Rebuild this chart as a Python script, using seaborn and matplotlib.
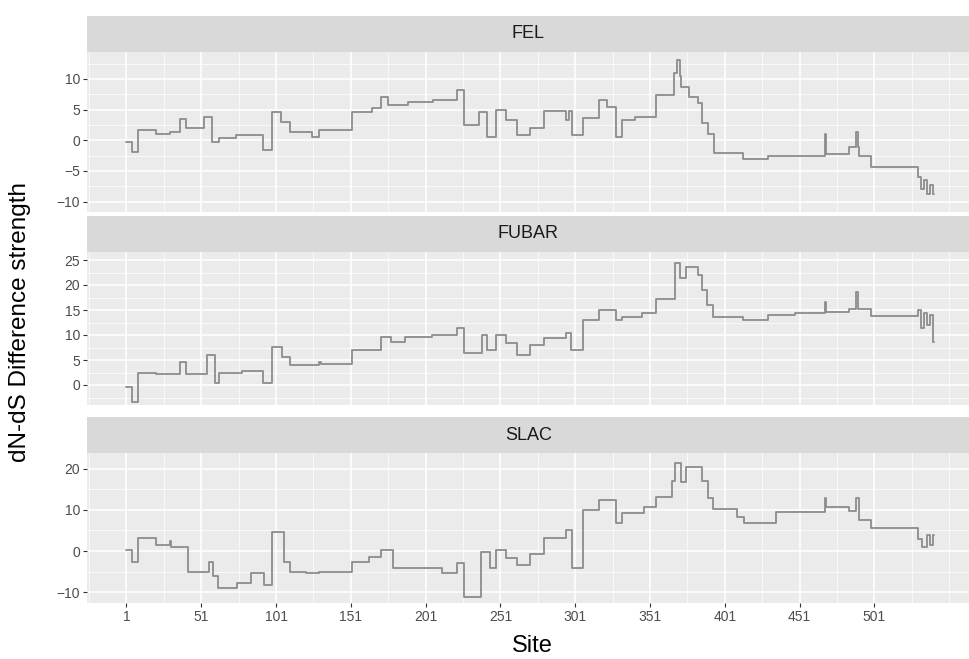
import matplotlib
matplotlib.use("Agg")
import matplotlib.pyplot as plt
from matplotlib.ticker import FixedLocator
import pandas as pd
import seaborn as sns

# ggplot-like grey theme
sns.set_theme(style="darkgrid")
plt.rcParams["font.family"] = ["Liberation Sans", "DejaVu Sans"]
plt.rcParams["axes.unicode_minus"] = True

METHODS = ["FEL", "FUBAR", "SLAC"]

FEL_SITES = [1, 5, 9, 21, 30, 37, 41, 53, 58, 63, 74, 92, 98, 104, 110, 125, 130,
             152, 165, 171, 176, 189, 206, 222, 227, 237, 242, 248, 255, 262, 271,
             280, 295, 297, 299, 306, 317, 322, 328, 332, 341, 355, 367, 369, 371,
             372, 377, 383, 386, 390, 394, 413, 430, 468, 469, 484, 489, 490, 491,
             499, 530, 532, 534, 536, 538, 540, 541]
FEL_VALUES = [-0.3, -1.9, 1.6, 1.0, 1.3, 3.4, 2.0, 3.8, -0.3, 0.3, 0.8, -1.6, 4.6,
              3.0, 1.3, 0.5, 1.6, 4.6, 5.2, 7.0, 5.7, 6.2, 6.6, 8.2, 2.5, 4.6, 0.5,
              4.9, 3.3, 0.8, 2.0, 4.7, 3.3, 4.7, 0.8, 3.6, 6.6, 5.4, 0.5, 3.3, 3.8,
              7.4, 11.0, 13.1, 10.5, 8.7, 7.0, 6.0, 2.8, 1.1, -2.1, -3.0, -2.5, 1.1,
              -2.2, -1.1, 1.3, -1.1, -2.5, -4.3, -6.0, -8.0, -6.5, -8.7, -7.3, -8.7,
              -8.7]

FUBAR_SITES = [1, 5, 9, 21, 37, 41, 55, 60, 63, 78, 92, 98, 105, 110, 130, 131,
               152, 171, 178, 187, 205, 222, 227, 239, 242, 248, 255, 262, 271, 280,
               295, 298, 306, 317, 328, 332, 346, 355, 368, 371, 375, 383, 386, 389,
               393, 413, 430, 448, 468, 469, 484, 489, 490, 499, 530, 532, 534, 536,
               538, 540, 541]
FUBAR_VALUES = [-0.3, -3.3, 2.4, 2.2, 4.6, 2.3, 6.0, 0.5, 2.4, 2.8, 0.5, 7.6, 5.6,
                4.0, 4.6, 4.2, 7.0, 9.6, 8.6, 9.6, 10.0, 11.4, 6.4, 10.0, 7.0, 10.0,
                8.4, 6.0, 8.0, 9.4, 10.4, 7.0, 13.0, 15.0, 13.0, 13.6, 14.4, 17.2,
                24.4, 21.4, 23.6, 22.0, 19.0, 16.0, 13.6, 13.0, 14.0, 14.4, 16.6,
                14.6, 15.2, 18.6, 15.2, 13.8, 15.0, 11.5, 14.5, 12.0, 14.0, 8.6, 8.6]

SLAC_SITES = [1, 5, 9, 21, 30, 31, 42, 56, 59, 62, 75, 84, 93, 98, 106, 110, 121,
              130, 152, 163, 171, 179, 203, 212, 222, 227, 238, 244, 248, 255, 262,
              271, 280, 295, 299, 306, 317, 328, 332, 347, 355, 366, 368, 372, 375,
              386, 390, 393, 409, 414, 435, 468, 469, 484, 489, 491, 499, 530, 533,
              536, 538, 540, 541]
SLAC_VALUES = [0.2, -2.6, 3.2, 1.5, 2.5, 1.0, -5.1, -2.6, -6.0, -9.0, -7.8, -5.4,
               -8.2, 4.6, -2.6, -5.1, -5.4, -5.1, -2.6, -1.5, 0.2, -4.1, -4.0, -5.4,
               -3.0, -11.2, -0.3, -4.1, 0.2, -1.8, -3.3, -0.6, 3.1, 5.0, -4.2, 10.0,
               12.4, 6.8, 9.2, 10.7, 13.1, 17.0, 21.4, 16.7, 20.4, 17.0, 13.0, 10.2,
               8.3, 6.8, 9.5, 12.9, 10.7, 9.7, 12.9, 7.5, 5.6, 3.0, 1.0, 4.0, 1.5,
               4.0, 4.0]

X_TICKS = [1, 51, 101, 151, 201, 251, 301, 351, 401, 451, 501]
X_MINOR = [-24, 26, 76, 126, 176, 226, 276, 326, 376, 426, 476, 526, 551]
Y_TICKS = {"FEL": [-10, -5, 0, 5, 10],
           "FUBAR": [0, 5, 10, 15, 20, 25],
           "SLAC": [-10, 0, 10, 20]}
Y_MINOR = {"FEL": [-7.5, -2.5, 2.5, 7.5, 12.5],
           "FUBAR": [-2.5, 2.5, 7.5, 12.5, 17.5, 22.5],
           "SLAC": [-5, 5, 15]}
Y_LIMS = {"FEL": (-11.7, 14.4), "FUBAR": (-4.0, 26.6), "SLAC": (-12.6, 23.8)}

frames = []
for name, sites, vals in [("FEL", FEL_SITES, FEL_VALUES),
                          ("FUBAR", FUBAR_SITES, FUBAR_VALUES),
                          ("SLAC", SLAC_SITES, SLAC_VALUES)]:
    frames.append(pd.DataFrame({"site": sites, "value": vals, "method": name}))
df = pd.concat(frames, ignore_index=True)

W, H = 970, 659
fig = plt.figure(figsize=(W / 100, H / 100), dpi=100, facecolor="white")


def px_axes(left, top, right, bottom):
    return fig.add_axes([left / W, 1 - bottom / H, (right - left) / W, (bottom - top) / H])


# (strip top, panel top, panel bottom) in pixels
LAYOUT = {"FEL": (16, 52, 212), "FUBAR": (216, 252, 405), "SLAC": (417, 453, 603)}
LEFT, RIGHT = 87, 970

for name in METHODS:
    s_top, p_top, p_bot = LAYOUT[name]
    strip = px_axes(LEFT, s_top, RIGHT, p_top)
    strip.set_facecolor("#D9D9D9")
    strip.set_xticks([])
    strip.set_yticks([])
    strip.grid(False)
    for sp in strip.spines.values():
        sp.set_visible(False)
    strip.text(0.5, 0.5, name, ha="center", va="center", fontsize=13,
               color="#1A1A1A", transform=strip.transAxes)

    ax = px_axes(LEFT, p_top, RIGHT, p_bot)
    ax.set_facecolor("#EBEBEB")
    sub = df[df["method"] == name]
    sns.lineplot(data=sub, x="site", y="value", ax=ax, estimator=None,
                 drawstyle="steps-post", color="#8C8C8C", linewidth=1.3)
    ax.set_xlim(-25.4, 565)
    ax.set_ylim(*Y_LIMS[name])
    ax.xaxis.set_major_locator(FixedLocator(X_TICKS))
    ax.xaxis.set_minor_locator(FixedLocator(X_MINOR))
    ax.yaxis.set_major_locator(FixedLocator(Y_TICKS[name]))
    ax.yaxis.set_minor_locator(FixedLocator(Y_MINOR[name]))
    ax.grid(which="major", color="white", linewidth=1.1)
    ax.grid(which="minor", color="white", linewidth=0.5)
    ax.set_axisbelow(True)
    for sp in ax.spines.values():
        sp.set_visible(False)
    ax.tick_params(axis="both", which="major", length=3, width=0.8, color="#333333",
                   labelsize=10, labelcolor="#4D4D4D", pad=2, left=True,
                   bottom=(name == "SLAC"))
    ax.tick_params(which="minor", length=0)
    ax.set_xlabel("")
    ax.set_ylabel("")
    if name != "SLAC":
        ax.set_xticklabels([])

fig.text(20 / W, 1 - 322 / H, "dN-dS Difference strength", rotation=90,
         ha="center", va="center", fontsize=17.5, color="black")
fig.text(532 / W, 1 - 646 / H, "Site", ha="center", va="center",
         fontsize=17, color="black")

fig.savefig("out.png", dpi=100, facecolor="white")
